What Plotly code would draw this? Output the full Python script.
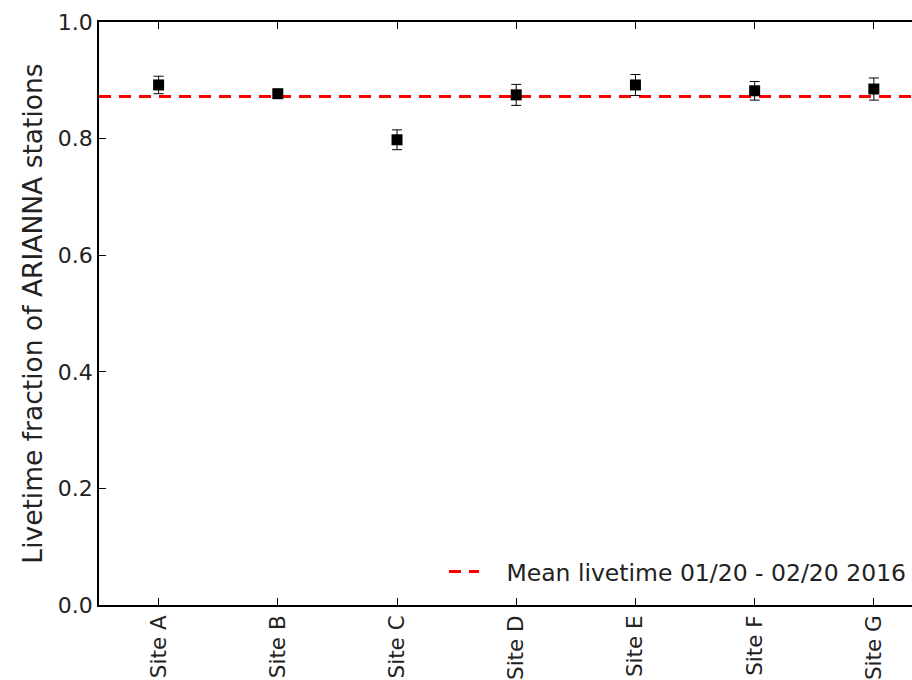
import plotly.graph_objects as go

sites = ["Site A", "Site B", "Site C", "Site D", "Site E", "Site F", "Site G"]
livetime = [0.892, 0.877, 0.798, 0.875, 0.892, 0.882, 0.885]
livetime_err = [0.015, 0.004, 0.017, 0.018, 0.018, 0.016, 0.019]
mean_livetime = 0.872
mean_label = "Mean livetime 01/20 - 02/20 2016"

FONT = "DejaVu Sans"

fig = go.Figure()
fig.add_trace(go.Scatter(
    x=list(range(len(sites))), y=livetime,
    mode="markers",
    marker=dict(symbol="square", size=11, color="black"),
    error_y=dict(type="data", array=livetime_err, visible=True,
                 color="black", thickness=1, width=5),
    showlegend=False,
))

fig.add_shape(type="line", xref="paper", x0=0, x1=1, yref="y",
              y0=mean_livetime, y1=mean_livetime,
              line=dict(color="red", width=3, dash="12px,8px"),
              showlegend=True, name="\u00a0\u00a0\u00a0" + mean_label, layer="below")

fig.update_layout(
    width=912, height=680,
    margin=dict(l=99, r=0, t=22, b=75),
    paper_bgcolor="white", plot_bgcolor="white",
    font=dict(family=FONT, color="#222222", size=22),
    legend=dict(x=1, xanchor="right", y=0.057, yanchor="middle",
                font=dict(size=23.5, family=FONT, color="#222222"),
                bgcolor="rgba(0,0,0,0)", borderwidth=0),
    xaxis=dict(
        range=[-0.5, 6.32], automargin=False,
        tickmode="array", tickvals=list(range(len(sites))), ticktext=sites,
        tickangle=-90, ticks="inside", ticklen=7, tickwidth=1, tickcolor="black",
        showline=True, linecolor="black", linewidth=1.5, mirror="ticks",
        showgrid=False, zeroline=False,
        tickfont=dict(size=21.5, family=FONT, color="#222222"),
    ),
    yaxis=dict(
        range=[0, 1], tickvals=[0, 0.2, 0.4, 0.6, 0.8, 1.0], tickformat=".1f",
        ticks="inside", ticklen=7, tickwidth=1, tickcolor="black",
        showline=True, linecolor="black", linewidth=1.5,
        showgrid=False, zeroline=False, automargin=False,
        tickfont=dict(size=22, family=FONT, color="#222222"),
        title=dict(text="Livetime fraction of ARIANNA stations",
                   font=dict(size=26.5, family=FONT, color="#222222"), standoff=8),
    ),
)

fig.write_html("out.html")
